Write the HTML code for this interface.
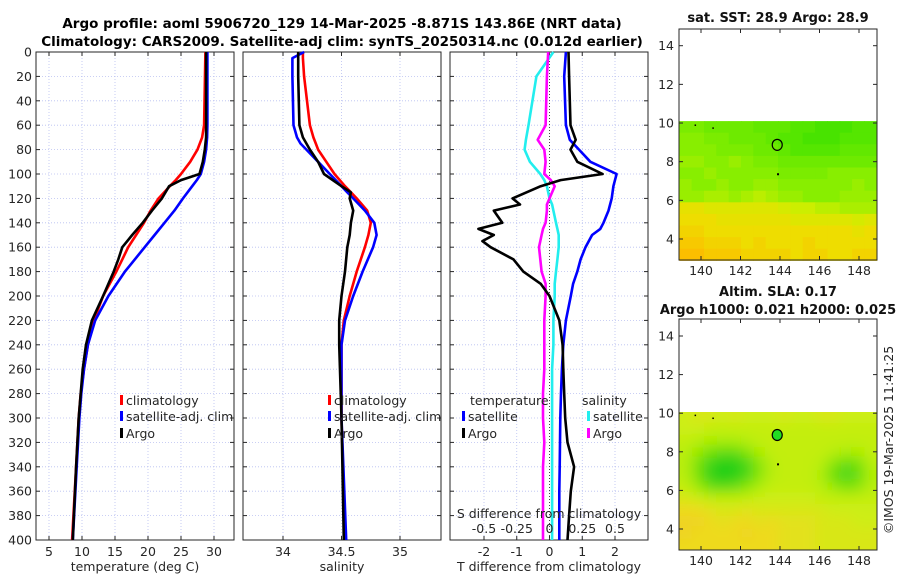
<!DOCTYPE html>
<html><head><meta charset="utf-8"><style>
body{margin:0;background:#fff;}
svg{display:block;font-family:"DejaVu Sans","Liberation Sans",sans-serif;}
</style></head><body>
<svg id="fig" width="900" height="580" viewBox="0 0 900 580" xmlns="http://www.w3.org/2000/svg">
<defs>
<filter id="blur" filterUnits="userSpaceOnUse" x="640" y="370" width="280" height="220"><feGaussianBlur stdDeviation="7"/></filter>
<clipPath id="slaclip"><rect x="679" y="412" width="198" height="138"/></clipPath>
</defs>
<text x="342" y="28" text-anchor="middle" font-size="13.5" font-weight="bold">Argo profile: aoml 5906720_129 14-Mar-2025 -8.871S 143.86E (NRT data)</text>
<text x="342" y="46" text-anchor="middle" font-size="13.5" font-weight="bold">Climatology: CARS2009. Satellite-adj clim: synTS_20250314.nc (0.012d earlier)</text>
<g id="g"></g>
</svg>
<script>
// ---------- data ----------
const tDepth = [0,60,70,80,90,100,105,110,120,130,140,150,160,170,180,200,220,240,260,280,300,340,400];
const tClim  = [28.7,28.5,28.2,27.5,26.4,25,24.2,23.3,21.6,20.4,19.4,18.2,17,16.1,15.2,13.2,11.8,10.9,10.3,9.8,9.5,9.1,8.5];
const tSat   = [29,29,28.95,28.8,28.5,28,27.4,26.7,25.3,24,22.5,21,19.5,18,16.5,14,12,10.9,10.3,9.9,9.6,9.2,8.6];
const tArgo  = [28.8,28.8,28.8,28.6,28.3,27.8,25,23.2,22.1,20.6,19.2,17.6,16.1,15.5,14.8,13.2,11.5,10.6,10.1,9.8,9.5,9.1,8.6];

const sDepth = [0,5,20,60,70,75,80,90,100,110,115,120,130,140,150,160,180,200,220,240,300,400];
const sClim  = [34.17,34.17,34.18,34.23,34.26,34.28,34.3,34.37,34.44,34.53,34.58,34.63,34.72,34.75,34.73,34.7,34.63,34.57,34.52,34.5,34.5,34.53];
const sSat   = [34.18,34.08,34.08,34.09,34.12,34.15,34.2,34.3,34.4,34.5,34.55,34.6,34.7,34.78,34.8,34.77,34.68,34.6,34.53,34.5,34.5,34.54];
const sArgo  = [34.13,34.13,34.13,34.14,34.17,34.2,34.23,34.3,34.35,34.5,34.58,34.57,34.6,34.58,34.57,34.55,34.53,34.5,34.48,34.48,34.5,34.52];

const dDepth   = [0,20,60,72,80,90,100,105,110,120,125,130,140,145,150,155,160,170,180,190,200,220,240,260,280,300,320,340,360,380,400];
const dTArgo   = [0.58,0.6,0.64,0.8,0.64,0.85,1.62,0.34,-0.27,-1.13,-0.9,-1.7,-1.44,-2.17,-1.7,-2.05,-1.8,-1.1,-0.8,-0.27,0,0.3,0.4,0.42,0.45,0.48,0.55,0.75,0.65,0.6,0.55];
const dTSat    = [0.5,0.45,0.5,0.62,0.9,1.25,2.05,2.0,1.95,1.9,1.85,1.8,1.65,1.55,1.3,1.2,1.1,0.95,0.85,0.72,0.65,0.5,0.42,0.38,0.35,0.33,0.32,0.31,0.3,0.3,0.3];
const dSSat    = [0.03,-0.1,-0.16,-0.18,-0.19,-0.15,-0.07,-0.04,-0.02,0,0.02,0.03,0.05,0.06,0.07,0.07,0.07,0.06,0.05,0.04,0.04,0.03,0.03,0.02,0.02,0.02,0.02,0.02,0.02,0.02,0.02];
const dSArgo   = [-0.01,-0.02,-0.03,-0.09,-0.04,-0.03,-0.04,0.01,0.04,0.0,-0.02,-0.02,-0.03,-0.05,-0.06,-0.07,-0.08,-0.07,-0.06,-0.03,-0.03,-0.04,-0.04,-0.04,-0.05,-0.05,-0.04,-0.05,-0.05,-0.05,-0.05];

const depthTicks = [0,20,40,60,80,100,120,140,160,180,200,220,240,260,280,300,320,340,360,380,400];
const tTicks = [5,10,15,20,25,30];
const sTicks = [34,34.5,35];
const sTickLabels = ['34','34.5','35'];
const dTTicks = [-2,-1,0,1,2];
const dSTicks = [-0.5,-0.25,0,0.25,0.5];
const dSTickLabels = ['-0.5','-0.25','0','0.25','0.5'];
const lonTicks = [140,142,144,146,148];
const latTicks = [4,6,8,10,12,14];

const argoLon = 143.86, argoLat = 8.871;
const sstGrid = [
[.35,.35,.3,.3,.3,.3,.25,.25,.25,.2,.2,.15,.15,.15,.2,.2],
[.4,.4,.35,.35,.3,.3,.3,.25,.2,.2,.15,.15,.15,.2,.2,.2],
[.4,.4,.4,.35,.35,.35,.3,.3,.25,.2,.2,.2,.2,.25,.25,.25],
[.45,.45,.4,.4,.45,.4,.35,.35,.3,.3,.3,.3,.3,.3,.3,.3],
[.4,.4,.45,.4,.4,.4,.4,.4,.35,.35,.35,.35,.4,.4,.4,.4],
[.45,.4,.4,.45,.4,.4,.45,.45,.4,.4,.4,.4,.4,.4,.45,.4],
[.45,.45,.5,.5,.45,.5,.55,.5,.45,.45,.4,.4,.4,.45,.45,.45],
[.75,.75,.7,.7,.7,.7,.7,.7,.65,.6,.6,.55,.55,.5,.5,.5],
[.8,.8,.8,.75,.75,.75,.75,.75,.75,.7,.7,.7,.7,.7,.65,.7],
[.85,.85,.8,.8,.8,.8,.8,.8,.8,.8,.8,.8,.8,.8,.75,.8],
[.9,.9,.85,.85,.85,.8,.85,.8,.8,.8,.85,.8,.8,.8,.8,.8],
[.95,.95,.9,.9,.9,.85,.85,.85,.85,.8,.85,.85,.8,.8,.85,.85]];
const slaGrid = [
[.65,.7,.7,.65,.7,.65,.65,.65,.7,.65,.65,.7,.7,.65,.65,.65],
[.65,.65,.6,.6,.6,.6,.6,.6,.6,.6,.6,.6,.6,.6,.6,.6],
[.6,.55,.5,.5,.5,.55,.6,.6,.6,.6,.6,.6,.6,.6,.6,.6],
[.55,.45,.35,.3,.3,.4,.5,.6,.6,.6,.6,.6,.55,.5,.5,.6],
[.55,.35,.15,.05,.05,.2,.4,.55,.6,.6,.6,.55,.4,.3,.35,.55],
[.55,.35,.1,0,.05,.2,.4,.55,.6,.6,.6,.5,.3,.2,.3,.5],
[.6,.45,.3,.25,.3,.4,.5,.6,.6,.6,.6,.55,.45,.35,.4,.55],
[.7,.65,.6,.6,.6,.6,.65,.65,.65,.65,.65,.6,.6,.6,.6,.6],
[.8,.8,.75,.7,.7,.75,.7,.7,.7,.7,.7,.7,.65,.65,.65,.65],
[.85,.85,.8,.75,.8,.8,.75,.8,.75,.75,.75,.7,.7,.7,.65,.65],
[.85,.8,.8,.8,.8,.85,.8,.8,.75,.75,.75,.7,.7,.7,.7,.7],
[.8,.8,.8,.8,.8,.8,.8,.8,.75,.75,.75,.7,.7,.7,.7,.7]];

// ---------- helpers ----------
const NS='http://www.w3.org/2000/svg';
const G=document.getElementById('g');
function mk(tag,attrs,parent){const e=document.createElementNS(NS,tag);for(const k in attrs)e.setAttribute(k,attrs[k]);(parent||G).appendChild(e);return e;}
function txt(x,y,s,size,anchor,parent){const e=mk('text',{x:x,y:y,'font-size':size||12.5,'text-anchor':anchor||'middle',fill:'#262626'},parent);e.textContent=s;return e;}

const PT=52, PB=540;
const yD = d => PT + (d/400)*(PB-PT);
function xLin(x0,x1,v0,v1){return v=>x0+(v-v0)/(v1-v0)*(x1-x0);}

function panel(name,x0,x1,xs,xticks,xlabels,ylabels,gridTicks){
  const box=mk('g',{});
  
  
  gridTicks.forEach(v=>mk('line',{x1:xs(v),x2:xs(v),y1:PT,y2:PB,stroke:'#b8bff0','stroke-width':0.8,'stroke-dasharray':'1,2'},box));
  depthTicks.forEach(d=>mk('line',{x1:x0,x2:x1,y1:yD(d),y2:yD(d),stroke:'#b8bff0','stroke-width':0.8,'stroke-dasharray':'1,2'},box));
  mk('rect',{x:x0,y:PT,width:x1-x0,height:PB-PT,fill:'none',stroke:'#262626','stroke-width':1},box);
  depthTicks.forEach(d=>{
    mk('line',{x1:x0,x2:x0+4,y1:yD(d),y2:yD(d),stroke:'#262626'},box);
    mk('line',{x1:x1-4,x2:x1,y1:yD(d),y2:yD(d),stroke:'#262626'},box);
    if(ylabels){const t=txt(x0-4,yD(d)+4.5,String(d),12.5,'end',box);}
  });
  xticks.forEach((v,i)=>{
    mk('line',{x1:xs(v),x2:xs(v),y1:PB,y2:PB-4,stroke:'#262626'},box);
    mk('line',{x1:xs(v),x2:xs(v),y1:PT,y2:PT+4,stroke:'#262626'},box);
    if(xlabels){const t=txt(xs(v),PB+16,xlabels[i],12.5,'middle',box);}
  });
  return box;
}
function line(xs,vals,depths,color,name,w){
  const p=vals.map((v,i)=>(i?'L':'M')+xs(v).toFixed(1)+','+yD(depths[i]).toFixed(1)).join('');
  const e=mk('path',{d:p,fill:'none',stroke:color,'stroke-width':w||2.6,'stroke-linejoin':'round'});
  
  
  return e;
}
function legendItem(x,y,color,label,name){
  const g=mk('g',{});
  
  
  mk('rect',{x:x,y:y-10,width:3,height:10,fill:color},g);
  txt(x+6,y,label,12.5,'start',g);
}

// ---------- panel 1 temperature ----------
const xT=xLin(49,214,5,30);
panel('temperature-panel',36,234,xT,tTicks,tTicks.map(String),true,tTicks);
line(xT,tClim,tDepth,'#ff0000','temperature-climatology-line');
line(xT,tSat,tDepth,'#0000ff','temperature-satellite-line');
line(xT,tArgo,tDepth,'#000000','temperature-argo-line');
legendItem(120,405,'#ff0000','climatology','legend-climatology');
legendItem(120,421,'#0000ff','satellite-adj. clim','legend-satellite');
legendItem(120,438,'#000000','Argo','legend-argo');
(function(){const t=txt(135,571,'temperature (deg C)',12.5);})();

// ---------- panel 2 salinity ----------
const xS=xLin(283,400,34,35);
panel('salinity-panel',243,441,xS,sTicks,sTickLabels,false,sTicks);
line(xS,sClim,sDepth,'#ff0000','salinity-climatology-line');
line(xS,sSat,sDepth,'#0000ff','salinity-satellite-line');
line(xS,sArgo,sDepth,'#000000','salinity-argo-line');
legendItem(328,405,'#ff0000','climatology','legend-climatology-s');
legendItem(328,421,'#0000ff','satellite-adj. clim','legend-satellite-s');
legendItem(328,438,'#000000','Argo','legend-argo-s');
(function(){const t=txt(342,571,'salinity',12.5);})();

// ---------- panel 3 differences ----------
const xDT=xLin(484,615,-2,2);
const xDS=xLin(484,615,-0.5,0.5);
panel('difference-panel',450,648,xDT,dTTicks,dTTicks.map(String),false,[-2,-1,1,2]);
mk('line',{x1:xDT(0),x2:xDT(0),y1:PT,y2:PB,stroke:'#444','stroke-width':1,'stroke-dasharray':'1,2'});
line(xDS,dSSat,dDepth,'#22eeee','salinity-diff-satellite-line');
line(xDS,dSArgo,dDepth,'#ff00ff','salinity-diff-argo-line');
line(xDT,dTSat,dDepth,'#0000ff','temperature-diff-satellite-line');
line(xDT,dTArgo,dDepth,'#000000','temperature-diff-argo-line');
(function(){let t=txt(470,405,'temperature',12.5,'start');
 t=txt(582,405,'salinity',12.5,'start');})();
legendItem(462,421,'#0000ff','satellite','legend-t-satellite');
legendItem(462,438,'#000000','Argo','legend-t-argo');
legendItem(587,421,'#22eeee','satellite','legend-s-satellite');
legendItem(587,438,'#ff00ff','Argo','legend-s-argo');
(function(){let t=txt(549,518,'S difference from climatology',12.5);
 dSTicks.forEach((v,i)=>{const e=txt(xDS(v),533,dSTickLabels[i],12.5);});
 t=txt(549,571,'T difference from climatology',12.5);})();

// ---------- maps ----------
const MX0=679,MX1=877;
const lonX=xLin(701,859,140,148);
function sstColor(v){const stops=[[0,[34,221,0]],[0.4,[136,238,0]],[0.6,[204,238,0]],[0.8,[238,221,0]],[1,[255,180,0]]];return interp(stops,v);}
function slaColor(v){const stops=[[0,[20,205,20]],[0.3,[100,220,20]],[0.5,[175,238,0]],[0.65,[205,238,20]],[0.8,[238,218,30]],[1,[240,190,40]]];return interp(stops,v);}
function interp(stops,v){for(let i=1;i<stops.length;i++){if(v<=stops[i][0]){const a=stops[i-1],b=stops[i],f=(v-a[0])/(b[0]-a[0]);return 'rgb('+a[1].map((c,k)=>Math.round(c+(b[1][k]-c)*f)).join(',')+')';}}return 'rgb('+stops[stops.length-1][1].join(',')+')';}

function map(name,top,bottom,lat14y,lat4y,grid,colorFn,blur,title1,title2,t1y,t2y,filled){
  const latY=xLin(lat4y,lat14y,4,14);
  const g=mk('g',{});
  
  
  const cells=mk('g',blur?{filter:'url(#blur)'}:{},blur?mk('g',{'clip-path':'url(#slaclip)'},g):g);
  const rows=grid.length, cols=grid[0].length, lat0=10.1, dLat=7.2/rows, lon0=138.9, dLon=10/cols;
  const pad=blur?20:0;
  grid.forEach((row,r)=>row.forEach((v,c)=>{
    let x=lonX(lon0+c*dLon), y=latY(lat0-r*dLat);
    let w=lonX(lon0+(c+1)*dLon)-x+0.6, h=latY(lat0-(r+1)*dLat)-y+0.6;
    if(c===0){x-=pad;w+=pad;} if(c===cols-1){w+=pad;}
    if(r===0){y-=pad;h+=pad;} if(r===rows-1){h+=pad;}
    const cell=mk('rect',{x:x.toFixed(1),y:y.toFixed(1),width:w.toFixed(1),height:h.toFixed(1),fill:colorFn(v)},cells);
    
    
  }));
  mk('rect',{x:MX0,y:top,width:MX1-MX0,height:bottom-top,fill:'none',stroke:'#262626'},g);
  lonTicks.forEach(v=>{mk('line',{x1:lonX(v),x2:lonX(v),y1:bottom,y2:bottom-4,stroke:'#262626'},g);mk('line',{x1:lonX(v),x2:lonX(v),y1:top,y2:top+4,stroke:'#262626'},g);
    const t=txt(lonX(v),bottom+15,String(v),12.5,'middle',g);});
  latTicks.forEach(v=>{mk('line',{x1:MX0,x2:MX0+4,y1:latY(v),y2:latY(v),stroke:'#262626'},g);mk('line',{x1:MX1-4,x2:MX1,y1:latY(v),y2:latY(v),stroke:'#262626'},g);
    const t=txt(MX0-5,latY(v)+4.5,String(v),12.5,'end',g);});
  mk('rect',{x:lonX(139.7)-0.5,y:latY(9.9)-0.5,width:1.5,height:1.5,fill:'#000'},g);
  mk('rect',{x:lonX(140.6)-0.5,y:latY(9.75)-0.5,width:1.5,height:1.5,fill:'#000'},g);
  mk('rect',{x:lonX(143.9)-1,y:latY(7.35)-1,width:2,height:2,fill:'#000'},g);
  const m=mk('ellipse',{cx:lonX(argoLon),cy:latY(argoLat),rx:5,ry:5.5,fill:filled?'#22dd22':'none',stroke:'#000','stroke-width':1.2},g);
  
  
  if(title1){const t=mk('text',{x:778,y:t1y,'font-size':13,'font-weight':'bold','text-anchor':'middle',fill:'#111'},g);t.textContent=title1;}
  if(title2){const t=mk('text',{x:778,y:t2y,'font-size':13,'font-weight':'bold','text-anchor':'middle',fill:'#111'},g);t.textContent=title2;}
}
map('sst-map',29,260,45.7,239,sstGrid,sstColor,false,'sat. SST: 28.9 Argo: 28.9',null,22,0,false);
map('sla-map',319,550,336,529,slaGrid,slaColor,true,'Altim. SLA: 0.17','Argo h1000: 0.021 h2000: 0.025',296,314,true);

(function(){const t=mk('text',{x:0,y:0,'font-size':12.5,'text-anchor':'middle',fill:'#262626',transform:'translate(893,440) rotate(-90)'});t.textContent='©IMOS 19-Mar-2025 11:41:25';})();
</script>
</body></html>
